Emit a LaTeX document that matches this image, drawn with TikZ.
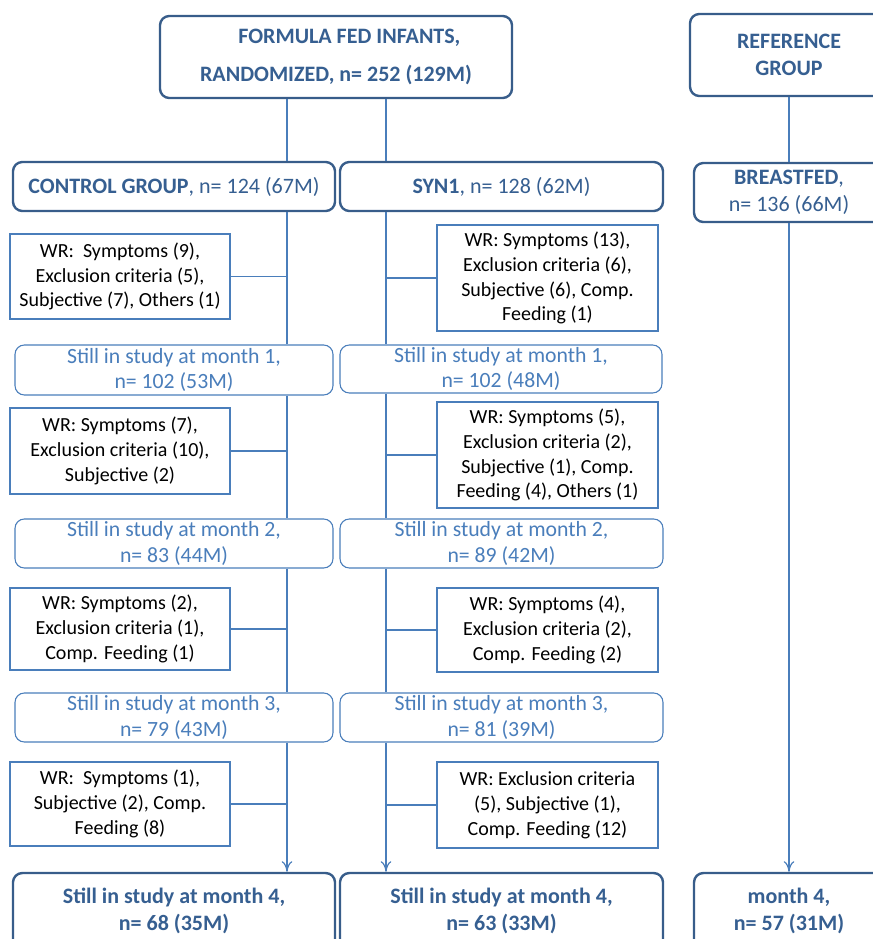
\documentclass[tikz,border=0pt]{standalone}
\usepackage{fontspec}
\setmainfont{Carlito}
\usepackage{xcolor}
\definecolor{385d8a}{HTML}{385d8a}
\definecolor{4a7ebb}{HTML}{4a7ebb}
\definecolor{365f91}{HTML}{365f91}
\usepackage{tikz}
\usetikzlibrary{arrows.meta}

\begin{document}
\begin{tikzpicture}[x=0.75pt, y=-0.75pt,
    head/.style={draw=385d8a, line width=1.8pt, rounded corners=7pt, fill=white, text=365f91, align=center, inner sep=0pt, font=\fontsize{16.5}{20}\selectfont},
    still/.style={draw=4a7ebb, line width=0.8pt, rounded corners=7pt, fill=white, text=4a7ebb, align=center, inner sep=0pt, font=\fontsize{16.3}{19}\selectfont},
    wr/.style={draw=4a7ebb, line width=1pt, fill=white, align=center, inner sep=0pt, font=\fontsize{15}{18.6}\selectfont},
    trunk/.style={draw=4a7ebb, line width=0.9pt},
    flow/.style={-{To[length=8pt,width=8pt]}}]

            \useasboundingbox (0,0) rectangle (872,939);
            \coordinate (cx) at (287,0);
            \coordinate (sx) at (386,0);

            \node (rand) at (336,57) [head, minimum width=264pt, minimum height=61.5pt] {\hspace*{20pt}\textbf{FORMULA FED INFANTS,}\\[8pt]\textbf{RANDOMIZED, n= 252 (129M)}};
            \node (ref) at (789,55) [head, minimum width=148.5pt, minimum height=61.5pt] {\textbf{REFERENCE}\\\textbf{GROUP}};

            \node (ctrl) at (174,186.5) [head, minimum width=241.5pt, minimum height=36.75pt] {\textbf{CONTROL GROUP}, n= 124 (67M)};
            \node (syn) at (501.5,186.5) [head, minimum width=242.25pt, minimum height=36.75pt] {\textbf{SYN1}, n= 128 (62M)};
            \node (bf) at (789,192.5) [head, minimum width=142.5pt, minimum height=44.25pt] {\textbf{BREASTFED},\\n= 136 (66M)};

            \node (wl1) at (120,276.5) [wr, minimum width=165pt, minimum height=63.75pt] {WR:\ \ Symptoms (9),\\Exclusion criteria (5),\\Subjective (7), Others (1)};
            \node (wr1) at (547.5,278) [wr, minimum width=165.75pt, minimum height=79.5pt] {WR: Symptoms (13),\\Exclusion criteria (6),\\Subjective (6), Comp.\\Feeding (1)};
            \node (m1l) at (174,370) [still, minimum width=238.5pt, minimum height=37.5pt] {Still in study at month 1,\\n= 102 (53M)};
            \node (m1r) at (501,369) [still, minimum width=241.5pt, minimum height=36pt] {Still in study at month 1,\\n= 102 (48M)};

            \node (wl2) at (120,451) [wr, minimum width=165pt, minimum height=64.5pt] {WR: Symptoms (7),\\Exclusion criteria (10),\\Subjective (2)};
            \node (wr2) at (547.5,455) [wr, minimum width=165.75pt, minimum height=79.5pt] {WR: Symptoms (5),\\Exclusion criteria (2),\\Subjective (1), Comp.\\Feeding (4), Others (1)};
            \node (m2l) at (174,543.5) [still, minimum width=238.5pt, minimum height=36.75pt] {Still in study at month 2,\\n= 83 (44M)};
            \node (m2r) at (501.5,543.5) [still, minimum width=242.25pt, minimum height=36.75pt] {Still in study at month 2,\\n= 89 (42M)};

            \node (wl3) at (120,629) [wr, minimum width=165pt, minimum height=61.5pt] {WR: Symptoms (2),\\Exclusion criteria (1),\\Comp. Feeding (1)};
            \node (wr3) at (547.5,630) [wr, minimum width=165.75pt, minimum height=63pt] {WR: Symptoms (4),\\Exclusion criteria (2),\\Comp. Feeding (2)};
            \node (m3l) at (174,717.5) [still, minimum width=238.5pt, minimum height=36.75pt] {Still in study at month 3,\\n= 79 (43M)};
            \node (m3r) at (501.5,717.5) [still, minimum width=242.25pt, minimum height=36.75pt] {Still in study at month 3,\\n= 81 (39M)};

            \node (wl4) at (120,804) [wr, minimum width=165pt, minimum height=63pt] {WR:\ \ Symptoms (1),\\Subjective (2), Comp.\\Feeding (8)};
            \node (wr4) at (547.5,805) [wr, minimum width=165.75pt, minimum height=64.5pt] {WR: Exclusion criteria\\(5), Subjective (1),\\Comp. Feeding (12)};

            \node (bl) at (174,911) [head, minimum width=241.5pt, minimum height=57pt] {\textbf{Still in study at month 4,}\\\textbf{n= 68 (35M)}};
            \node (bm) at (501.5,911) [head, minimum width=242.25pt, minimum height=57pt] {\textbf{Still in study at month 4,}\\\textbf{n= 63 (33M)}};
            \node (br) at (789,911) [head, minimum width=142.5pt, minimum height=57pt] {\textbf{month 4,}\\\textbf{n= 57 (31M)}};

            \draw[trunk] (rand.south -| cx) -- (ctrl.north -| cx);
            \draw[trunk] (rand.south -| sx) -- (syn.north -| sx);
            \draw[trunk] (ref) -- (bf);

            \foreach \a/\b in {ctrl/m1l, m1l/m2l, m2l/m3l} {
                \draw[trunk] (\a.south -| cx) -- (\b.north -| cx);
            }
            \foreach \a/\b in {syn/m1r, m1r/m2r, m2r/m3r} {
                \draw[trunk] (\a.south -| sx) -- (\b.north -| sx);
            }
            \draw[trunk, flow] (m3l.south -| cx) -- (bl.north -| cx);
            \draw[trunk, flow] (m3r.south -| sx) -- (bm.north -| sx);
            \draw[trunk, flow] (bf) -- (br);

            \foreach \w in {wl1, wl2, wl3, wl4} {
                \draw[trunk] (\w.east) -- (\w.east -| cx);
            }
            \foreach \w in {wr1, wr2, wr3, wr4} {
                \draw[trunk] (\w.west) -- (\w.west -| sx);
            }
        \end{tikzpicture}
\end{document}
